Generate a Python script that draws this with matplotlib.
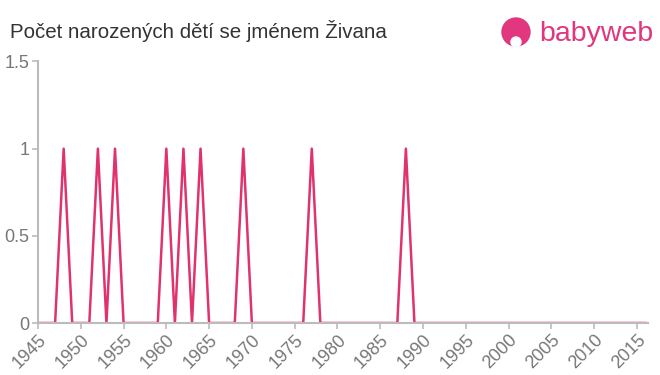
import matplotlib
matplotlib.use("Agg")
import matplotlib.pyplot as plt
from matplotlib.patches import Circle

plt.rcParams['font.family'] = ['Liberation Sans', 'DejaVu Sans']

years = list(range(1945, 2017))
peak_years = [1948, 1952, 1954, 1960, 1962, 1964, 1969, 1977, 1988]
counts = [1 if y in peak_years else 0 for y in years]
x_ticks = list(range(1945, 2020, 5))
y_ticks = [0, 0.5, 1, 1.5]
y_labels = ["0", "0.5", "1", "1.5"]
title = "Počet narozených dětí se jménem Živana"

fig = plt.figure(figsize=(6.6, 3.75), dpi=100)
ax = fig.add_axes([38/660, 52/375, 610/660, 261.5/375])
ax.plot(years, counts, color="#e0336b", lw=1.8)
ax.set_xlim(1945, 2016.3)
ax.set_ylim(0, 1.5)
ax.set_xticks(x_ticks)
ax.set_xticklabels([str(t) for t in x_ticks], rotation=45, ha="right",
                   rotation_mode="anchor", fontsize=13, color="#777777")
ax.set_yticks(y_ticks)
ax.set_yticklabels(y_labels, fontsize=13, color="#777777")
for s in ["top", "right"]:
    ax.spines[s].set_visible(False)
for s in ["left", "bottom"]:
    ax.spines[s].set_color("#bbbbbb")
    ax.spines[s].set_linewidth(1.5)
ax.tick_params(axis="both", colors="#bbbbbb", labelcolor="#777777", length=4, width=1.2)
ax.tick_params(axis="x", pad=2)
ax.tick_params(axis="y", pad=2)

fig.text(10/660, 1 - 31/375, title, fontsize=14.8, color="#333333", va="center", ha="left")

# logo
lax = fig.add_axes([0, 0, 1, 1], facecolor="none")
lax.set_xlim(0, 660); lax.set_ylim(375, 0); lax.axis("off")
lax.add_patch(Circle((516, 32), 14, color="#e0377f"))
lax.add_patch(Circle((516, 42), 5, color="white"))
lax.text(539, 34, "babyweb", fontsize=20.5, color="#e0377f", va="center", ha="left")

fig.savefig("out.png", dpi=100)
